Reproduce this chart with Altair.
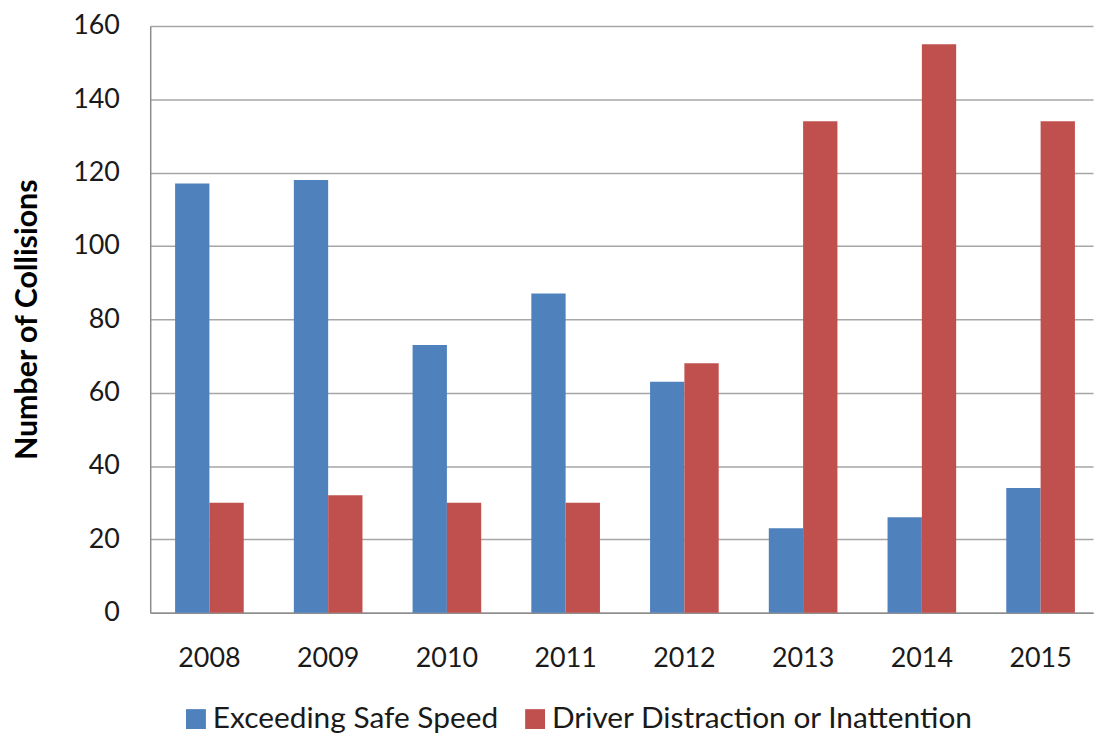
import altair as alt
import pandas as pd

years = ["2008", "2009", "2010", "2011", "2012", "2013", "2014", "2015"]
speed = [117, 118, 73, 87, 63, 23, 26, 34]
distraction = [30, 32, 30, 30, 68, 134, 155, 134]
series = ["Exceeding Safe Speed", "Driver Distraction or Inattention"]
colors = ["#4F81BD", "#C0504D"]
y_ticks = [0, 20, 40, 60, 80, 100, 120, 140, 160]

rows = []
for i, yr in enumerate(years):
    rows.append({"Year": yr, "Cause": series[0], "Collisions": speed[i]})
    rows.append({"Year": yr, "Cause": series[1], "Collisions": distraction[i]})
df = pd.DataFrame(rows)

FONT = "Lato"

chart = alt.Chart(df).mark_bar().encode(
    x=alt.X(
        "Year:N",
        title=None,
        sort=years,
        scale=alt.Scale(paddingInner=0.422, paddingOuter=0.181, align=0.579),
        axis=alt.Axis(
            labelAngle=0,
            labelFontSize=27,
            labelFont=FONT,
            labelColor="#1a1a1a",
            labelPadding=33,
            ticks=False,
            grid=False,
            domainColor="#8c8c8c",
            domainWidth=1.5,
        ),
    ),
    xOffset=alt.XOffset("Cause:N", sort=series, scale=alt.Scale(paddingInner=0, paddingOuter=0)),
    y=alt.Y(
        "Collisions:Q",
        title="Number of Collisions",
        scale=alt.Scale(domain=[0, 160], nice=False),
        axis=alt.Axis(
            values=y_ticks,
            labelFontSize=27,
            labelFont=FONT,
            labelColor="#1a1a1a",
            labelPadding=31,
            ticks=False,
            grid=True,
            gridColor="#a6a6a6",
            gridWidth=1.5,
            domainColor="#8c8c8c",
            domainWidth=1.5,
            titleFont=FONT,
            titleFontSize=30.5,
            titleFontWeight="bold",
            titleColor="#000000",
            titlePadding=30,
        ),
    ),
    color=alt.Color(
        "Cause:N",
        sort=series,
        scale=alt.Scale(domain=series, range=colors),
        legend=alt.Legend(
            title=None,
            orient="none",
            direction="horizontal",
            legendX=31,
            legendY=682,
            symbolType="square",
            symbolSize=400,
            symbolStrokeWidth=0,
            labelFontSize=30,
            labelFont=FONT,
            labelColor="#1a1a1a",
            labelOffset=2,
            columnPadding=22,
            padding=0,
            labelLimit=600,
        ),
    ),
).properties(
    width=948,
    height=590,
    autosize=alt.AutoSizeParams(type="none"),
    padding={"left": 143, "top": 16, "right": 2, "bottom": 122},
).configure_view(stroke=None)

chart.save("out.html", embed_options={"renderer": "svg", "actions": False})
